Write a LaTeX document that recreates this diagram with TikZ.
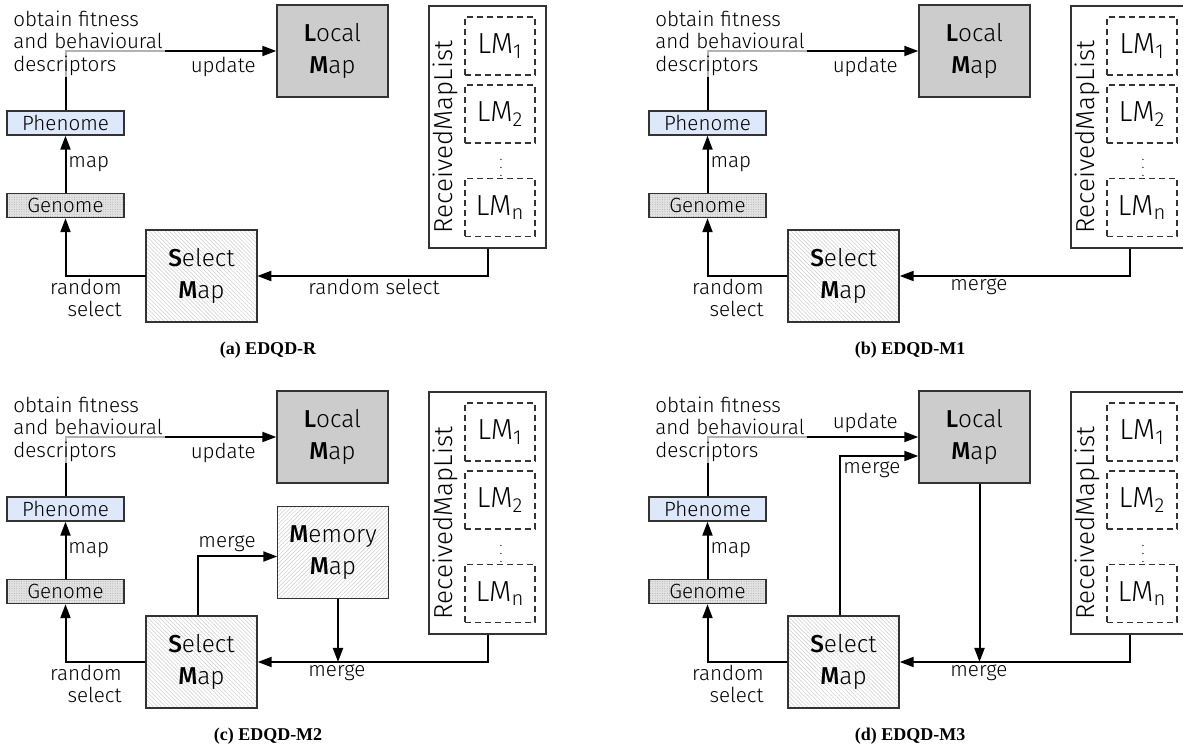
\documentclass[tikz,border=0pt]{standalone}
\usepackage{fontspec}
\setmainfont{Fira Sans Light}[BoldFont={Fira Sans Medium}]
\newfontfamily\capfont{Liberation Serif}
\usetikzlibrary{arrows.meta,patterns.meta}

\definecolor{phenoblue}{HTML}{DDE8FA}
\definecolor{boxline}{HTML}{333333}

\tikzset{
	mapbox/.style={draw=boxline, line width=0.7pt, minimum width=55.5pt, minimum height=46pt,
		inner sep=0pt, align=center, font=\fontsize{12.2}{16}\selectfont},
	localmap/.style={mapbox, fill=gray!40},
	selectmap/.style={mapbox, pattern={Lines[angle=-45,distance=1.4pt,line width=0.25pt]}, pattern color=gray!40},
	memorymap/.style={mapbox, pattern={Lines[angle=45,distance=1.4pt,line width=0.25pt]}, pattern color=gray!40},
	gbox/.style={draw=boxline, line width=0.7pt, minimum width=58.5pt, minimum height=12pt,
		inner sep=0pt, font=\fontsize{10.3}{11}\selectfont},
	phenbox/.style={gbox, fill=phenoblue},
	genbox/.style={gbox, preaction={fill=gray!22}, pattern={Dots[distance=1.2pt,radius=0.25pt]}, pattern color=gray!70},
	listbox/.style={draw=boxline, line width=0.7pt, minimum width=58.5pt, minimum height=121pt, inner sep=0pt},
	lmbox/.style={draw=boxline, line width=0.7pt, dash pattern=on 3pt off 2pt, minimum width=35pt,
		minimum height=29pt, inner sep=0pt, font=\fontsize{14.5}{16}\selectfont},
	arr/.style={-{Triangle[length=7pt,width=5pt]}, line width=1pt},
	lbl/.style={inner sep=1pt, font=\fontsize{10.3}{11.3}\selectfont},
	caption/.style={font=\capfont\bfseries\fontsize{9}{11}\selectfont}
}

% common part of each panel: #1 name suffix, #2 label of the list arrow, #3 caption
\newcommand{\edqdbase}[3]{%
	\node[localmap] (loc#1) at (332.5,51) {\textbf{L}ocal\\\textbf{M}ap};
	\node[phenbox] (phen#1) at (65.5,123) {Phenome};
	\node[genbox] (gen#1) at (65.5,205.5) {Genome};
	\node[selectmap] (sel#1) at (201.5,276) {\textbf{S}elect\\\textbf{M}ap};
	\node[listbox] (rml#1) at (487.5,127) {};
	\node[rotate=90, inner sep=0pt, font=\fontsize{13}{16}\selectfont] (rmltxt#1) at (445,137) {ReceivedMapList};
	\node[lmbox] (lma#1) at (500,46) {LM\textsubscript{1}};
	\node[lmbox] (lmb#1) at (500,114) {LM\textsubscript{2}};
	\node[inner sep=0pt, font=\fontsize{7}{8}\selectfont] (lmdots#1) at (501,162) {$\vdots$};
	\node[lmbox] (lmn#1) at (500,207.5) {LM\textsubscript{n}};
	\draw[arr] (phen#1.north) |- (loc#1.west);
	\node[lbl, fill=white, fill opacity=0.7, text opacity=1, align=left, anchor=west] (obtain#1) at (11,43)
		{obtain fitness\\and behavioural\\descriptors};
	\draw[arr] (gen#1.north) -- node[lbl, right] (map#1) {map} (phen#1.south);
	\draw[arr] (sel#1.west) -| (gen#1.south);
	\node[lbl, align=right, anchor=east] (rnd#1) at (124,298) {random\\select};
	\draw[arr] (rml#1.south) |- (sel#1.east);
	\node[lbl, anchor=west] (rmllbl#1) at (306,287) {#2};
	\node[caption] (cap#1) at (268,350) {#3};
}

\begin{document}
\begin{tikzpicture}[x=0.5pt,y=-0.5pt]
	\useasboundingbox (0,0) rectangle (1183,747);

	% (a)
	\begin{scope}
		\edqdbase{a}{random select}{(a) EDQD-R}
		\node[lbl, anchor=east] (upda) at (258,67) {update};
	\end{scope}

	% (b)
	\begin{scope}[shift={(642,0)}]
		\edqdbase{b}{merge}{(b) EDQD-M1}
		\node[lbl, anchor=east] (updb) at (258,67) {update};
	\end{scope}

	% (c)
	\begin{scope}[shift={(0,386)}]
		\edqdbase{c}{merge}{(c) EDQD-M2}
		\node[lbl, anchor=east] (updc) at (258,67) {update};
		\node[memorymap] (memc) at (333,166.5) {\textbf{M}emory\\\textbf{M}ap};
		\draw[arr] ([xshift=-2pt]selc.north) |- ([yshift=-2pt]memc.west);
		\node[lbl] (mergec) at (227,158) {merge};
		\draw[arr] ([xshift=2.5pt]memc.south) -- ([xshift=2.5pt]memc.south |- selc.east);
	\end{scope}

	% (d)
	\begin{scope}[shift={(642,386)}]
		\edqdbase{d}{merge}{(d) EDQD-M3}
		\node[lbl, anchor=east] (updd) at (258,37) {update};
		\draw[arr] ([xshift=-2pt]seld.north) |- ([yshift=-9.5pt]locd.west);
		\node[lbl, anchor=west] (merged) at (199,84) {merge};
		\draw[arr] ([xshift=2.5pt]locd.south) -- ([xshift=2.5pt]locd.south |- seld.east);
	\end{scope}
\end{tikzpicture}
\end{document}
